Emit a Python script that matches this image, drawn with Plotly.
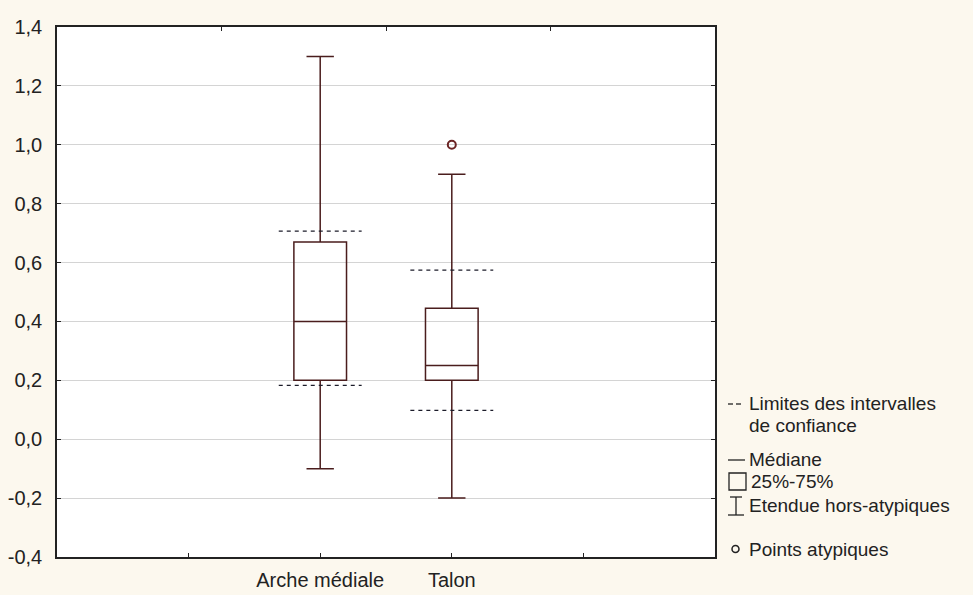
import plotly.graph_objects as go

# ---- data ----
categories = ["Arche médiale", "Talon"]
positions = [2, 3]
q1 = [0.20, 0.20]
median = [0.40, 0.25]
q3 = [0.67, 0.445]
lower_whisker = [-0.10, -0.20]
upper_whisker = [1.30, 0.90]
ci_low = [0.183, 0.098]
ci_high = [0.707, 0.574]
outlier_pos = [3]
outlier_val = [1.00]
y_ticks = [-0.4, -0.2, 0.0, 0.2, 0.4, 0.6, 0.8, 1.0, 1.2, 1.4]
y_tick_labels = ["-0,4", "-0,2", "0,0", "0,2", "0,4", "0,6", "0,8", "1,0", "1,2", "1,4"]
legend_labels = ["Limites des intervalles", "de confiance", "Médiane", "25%-75%",
                 "Etendue hors-atypiques", "Points atypiques"]

BOX_COLOR = "#4a1d1d"
CI_COLOR = "#1c1c2a"
TEXT_COLOR = "#222222"
FONT = "Liberation Sans, Arial, sans-serif"
W, H = 973, 595
L, R, T, B = 57, 715, 27, 557


def px(x):
    return (x - L) / (R - L)


def py(y):
    return (B - y) / (B - T)


fig = go.Figure()

fig.add_trace(go.Box(
    x=positions, q1=q1, median=median, q3=q3,
    lowerfence=lower_whisker, upperfence=upper_whisker,
    width=0.4, whiskerwidth=0.52,
    line=dict(color=BOX_COLOR, width=1.5),
    fillcolor="rgba(0,0,0,0)", boxpoints=False,
    hoverinfo="skip", showlegend=False,
))

half_ci = 0.315
for p, lo, hi in zip(positions, ci_low, ci_high):
    for v in (lo, hi):
        fig.add_trace(go.Scatter(
            x=[p - half_ci, p + half_ci], y=[v, v], mode="lines",
            line=dict(color=CI_COLOR, width=1.3, dash="4px,4px"),
            hoverinfo="skip", showlegend=False,
        ))

fig.add_trace(go.Scatter(
    x=outlier_pos, y=outlier_val, mode="markers",
    marker=dict(symbol="circle-open", size=8, color="#6b2424", line=dict(width=2)),
    hoverinfo="skip", showlegend=False,
))

# invisible trace for top mirrored axis ticks
fig.add_trace(go.Scatter(x=[0, 5], y=[None, None], xaxis="x2", yaxis="y",
                         mode="markers", showlegend=False, hoverinfo="skip"))

fig.update_layout(
    width=W, height=H,
    margin=dict(l=L, r=W - R, t=T, b=H - B, autoexpand=False),
    paper_bgcolor="#fcf8ee", plot_bgcolor="#ffffff",
    font=dict(family=FONT, size=20, color=TEXT_COLOR),
    xaxis=dict(
        range=[0, 5], tickmode="array", tickvals=[1, 2, 3, 4],
        ticktext=["", categories[0], categories[1], ""],
        ticks="inside", ticklen=4, tickcolor="#222", showgrid=False,
        zeroline=False, showline=True, linecolor="#222", linewidth=1.5,
        mirror=False, ticklabelstandoff=4, automargin=False,
    ),
    xaxis2=dict(
        range=[0, 5], overlaying="x", side="top", tickmode="array",
        tickvals=[1.25, 2.5, 3.75], ticks="inside", ticklen=4, tickcolor="#222",
        showticklabels=False, showgrid=False, zeroline=False,
        showline=True, linecolor="#222", linewidth=1.5, automargin=False,
    ),
    yaxis=dict(
        range=[-0.4, 1.4], tickmode="array", tickvals=y_ticks,
        ticktext=y_tick_labels, ticks="inside", ticklen=4, tickcolor="#222",
        showgrid=True, gridcolor="#d4d4d4", gridwidth=1, zeroline=False,
        showline=True, linecolor="#222", linewidth=1.5, mirror="ticks",
        ticklabelstandoff=9, automargin=False,
    ),
)

# ---- custom legend ----
legend_pos = [(747, 403), (747, 425), (747, 459), (749, 481), (747, 505), (747, 549)]
for (x, y), t in zip(legend_pos, legend_labels):
    fig.add_annotation(x=px(x), y=py(y), xref="paper", yref="paper",
                       text=t, showarrow=False, xanchor="left", yanchor="middle",
                       font=dict(family=FONT, size=19, color=TEXT_COLOR))

sym = dict(color="#222", width=1.3)
# "--" symbol
fig.add_shape(type="line", xref="paper", yref="paper",
              x0=px(728), x1=px(733), y0=py(404), y1=py(404), line=sym)
fig.add_shape(type="line", xref="paper", yref="paper",
              x0=px(736), x1=px(741), y0=py(404), y1=py(404), line=sym)
# median symbol
fig.add_shape(type="line", xref="paper", yref="paper",
              x0=px(728), x1=px(745), y0=py(460), y1=py(460), line=sym)
# box symbol
fig.add_shape(type="rect", xref="paper", yref="paper",
              x0=px(729), x1=px(746), y0=py(490), y1=py(473), line=sym)
# whisker symbol
fig.add_shape(type="line", xref="paper", yref="paper",
              x0=px(736), x1=px(736), y0=py(497), y1=py(515), line=sym)
fig.add_shape(type="line", xref="paper", yref="paper",
              x0=px(730), x1=px(742), y0=py(497), y1=py(497), line=sym)
fig.add_shape(type="line", xref="paper", yref="paper",
              x0=px(728), x1=px(744), y0=py(515), y1=py(515), line=sym)
# outlier symbol
fig.add_shape(type="circle", xref="paper", yref="paper",
              x0=px(732), x1=px(739), y0=py(552.5), y1=py(545.5),
              line=dict(color="#222", width=1.5))

fig.write_html("out.html", config={"displayModeBar": False},
               post_script="document.body.style.margin='0';document.body.style.background='#fcf8ee';")
